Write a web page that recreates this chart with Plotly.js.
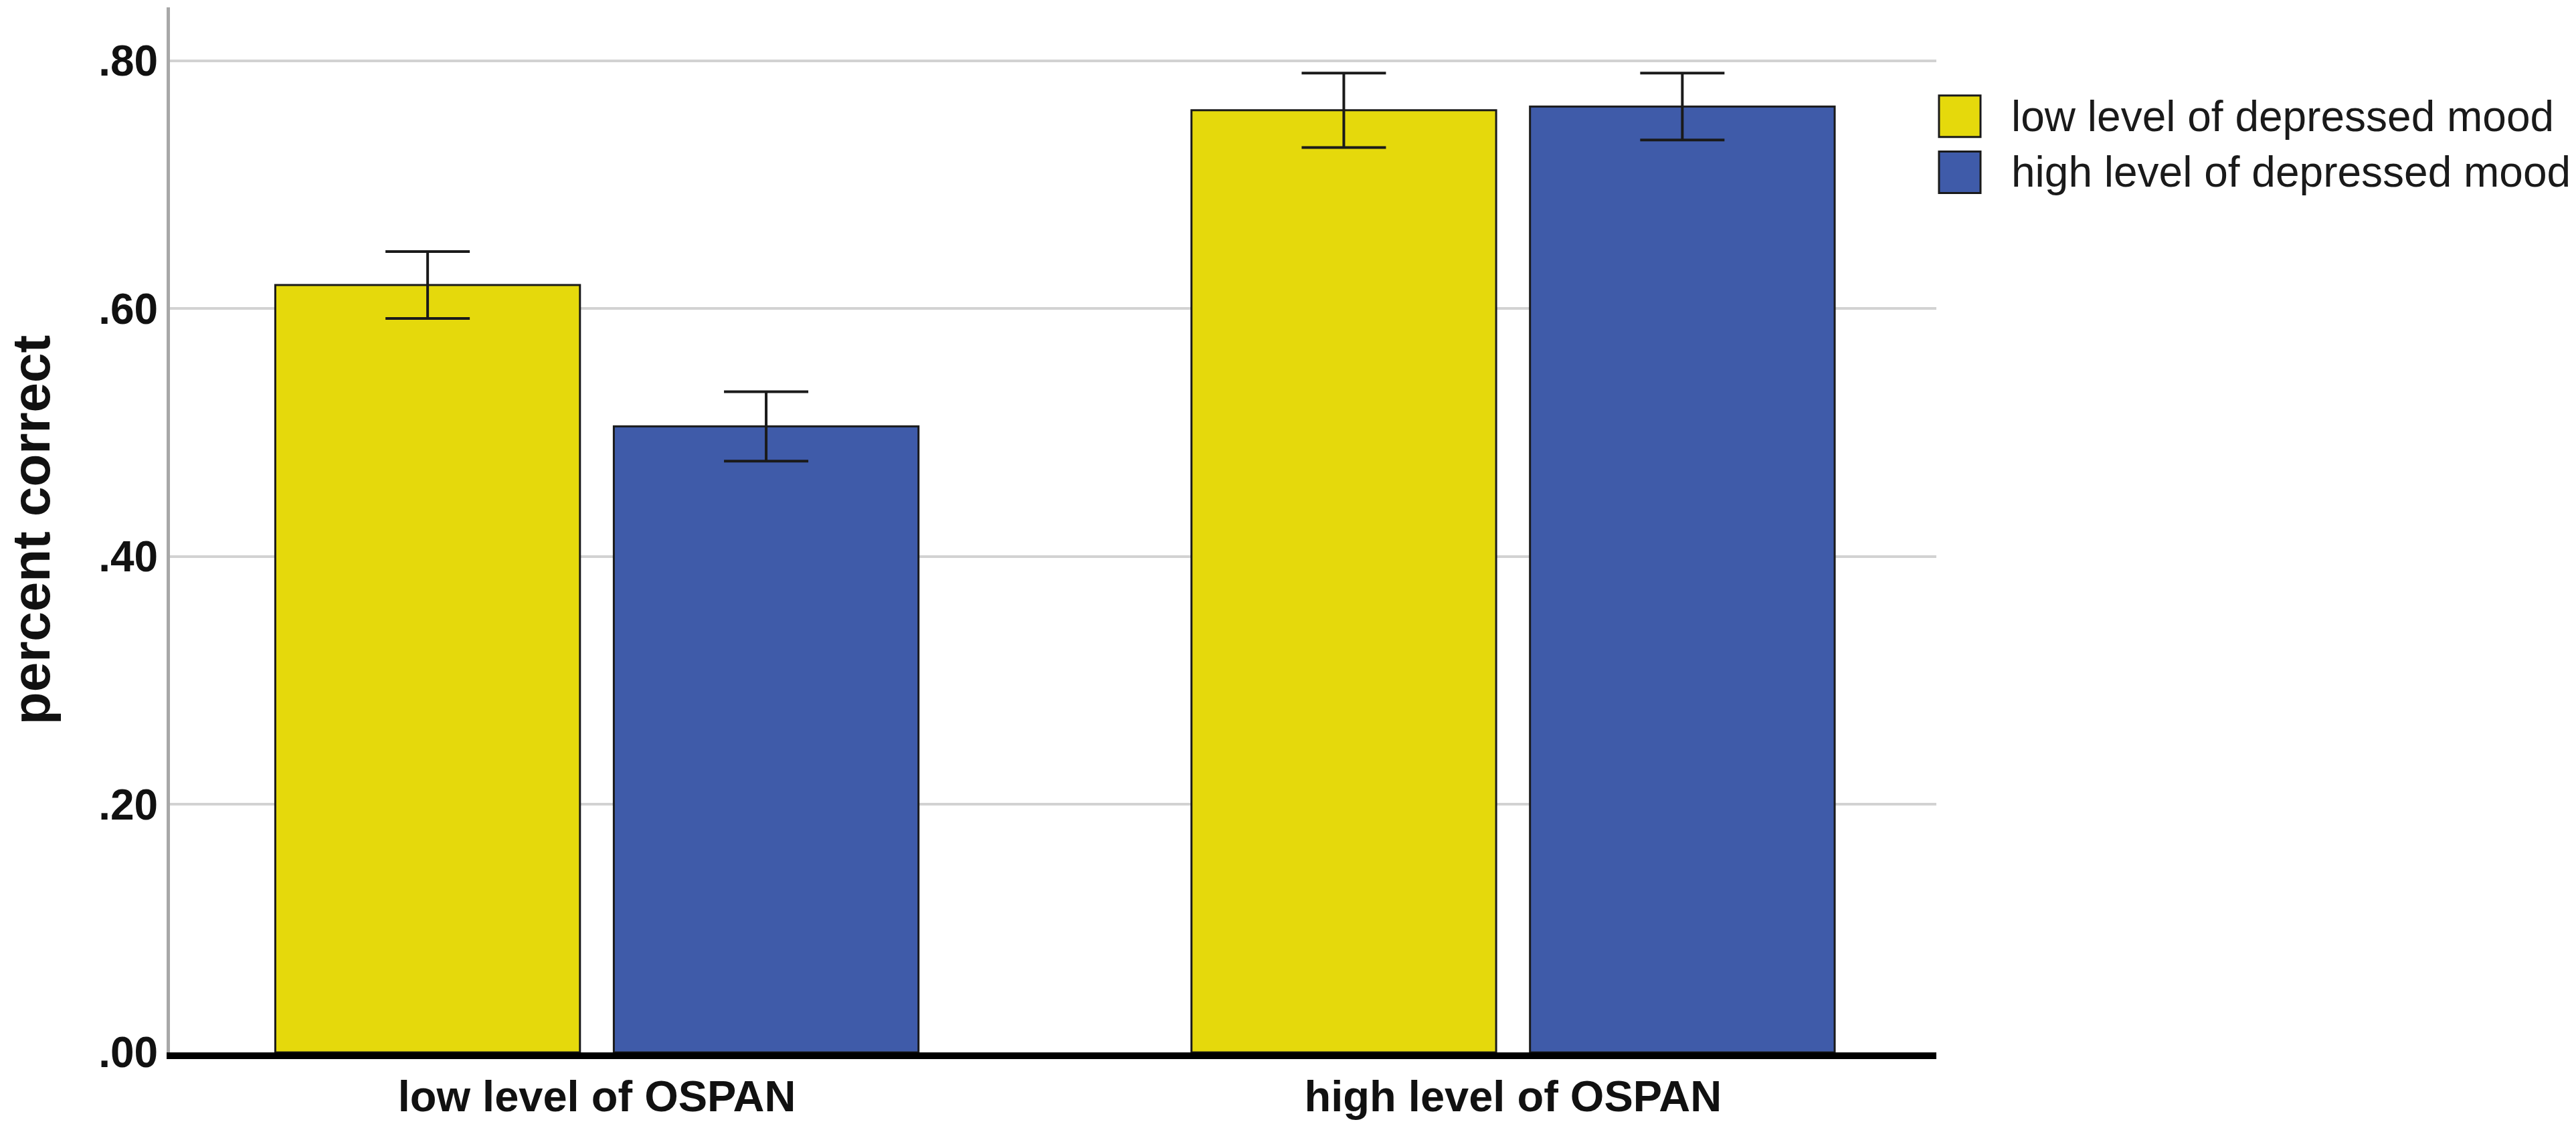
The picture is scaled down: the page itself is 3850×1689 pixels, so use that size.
<!DOCTYPE html>
<html>
<head>
<meta charset="utf-8">
<script src="https://cdn.plot.ly/plotly-3.0.1.min.js"></script>
<style>html,body{margin:0;padding:0;background:#fff;}#chart{width:3850px;height:1689px;}</style>
</head>
<body>
<div id="chart"></div>
<script>
// ---- data ----
const categories = ["low level of OSPAN", "high level of OSPAN"];
const seriesNames = ["low level of depressed mood", "high level of depressed mood"];
const lowMoodValues = [0.619, 0.760];
const lowMoodErrors = [0.027, 0.030];
const highMoodValues = [0.505, 0.763];
const highMoodErrors = [0.028, 0.027];
const yTickValues = [0, 0.2, 0.4, 0.6, 0.8];
const yTickLabels = [".00", ".20", ".40", ".60", ".80"];
const seriesColors = ["#E5D90C", "#3F5BA9"];

const FONT = "'Liberation Sans', Arial, sans-serif";

function barTrace(name, values, errs, color) {
  return {
    type: "bar",
    name: name,
    x: categories,
    y: values,
    marker: { color: color, line: { color: "#1a1a1a", width: 3 } },
    error_y: { type: "data", array: errs, visible: true, color: "#1a1a1a", thickness: 4, width: 63 },
    showlegend: false,
    hoverinfo: "skip"
  };
}

const traces = [
  barTrace(seriesNames[0], lowMoodValues, lowMoodErrors, seriesColors[0]),
  barTrace(seriesNames[1], highMoodValues, highMoodErrors, seriesColors[1])
];

// custom legend (large swatches) built from series names and colors
const legendShapes = [];
const legendAnnotations = [];
const swX0 = 1.0015, swX1 = 1.025, textX = 1.0416;
const rowTop = [0.9156, 0.862], rowH = 0.0396;
seriesNames.forEach((nm, i) => {
  legendShapes.push({
    type: "rect", xref: "paper", yref: "paper",
    x0: swX0, x1: swX1, y0: rowTop[i] - rowH, y1: rowTop[i],
    fillcolor: seriesColors[i], line: { color: "#1a1a1a", width: 3 }
  });
  legendAnnotations.push({
    xref: "paper", yref: "paper", x: textX, y: rowTop[i] - rowH / 2,
    xanchor: "left", yanchor: "middle", showarrow: false, text: nm,
    font: { family: FONT, size: 64, color: "#1a1a1a" }
  });
});

const layout = {
  width: 3850, height: 1689,
  margin: { l: 254, r: 956, t: 11, b: 116, pad: 0 },
  paper_bgcolor: "#ffffff", plot_bgcolor: "#ffffff",
  barmode: "group", bargap: 0.261, bargroupgap: 0.1,
  showlegend: false,
  font: { family: FONT, color: "#1a1a1a" },
  xaxis: {
    type: "category",
    range: [-0.466, 1.462],
    showline: true, linecolor: "#000000", linewidth: 10,
    showgrid: false, zeroline: false, ticks: "",
    tickfont: { family: FONT, size: 65, color: "#111111", weight: "bold" },
    fixedrange: true
  },
  yaxis: {
    range: [0, 0.843],
    tickvals: yTickValues, ticktext: yTickLabels,
    showline: true, linecolor: "#a8a8a8", linewidth: 5,
    showgrid: true, gridcolor: "#d2d2d2", gridwidth: 4,
    zeroline: false, ticks: "",
    tickfont: { family: FONT, size: 64, color: "#111111", weight: "bold" },
    title: { text: "percent correct", font: { family: FONT, size: 80, color: "#111111", weight: "bold" }, standoff: 48 },
    fixedrange: true
  },
  shapes: legendShapes,
  annotations: legendAnnotations
};

Plotly.newPlot("chart", traces, layout, { displayModeBar: false, staticPlot: true });
</script>
</body>
</html>
